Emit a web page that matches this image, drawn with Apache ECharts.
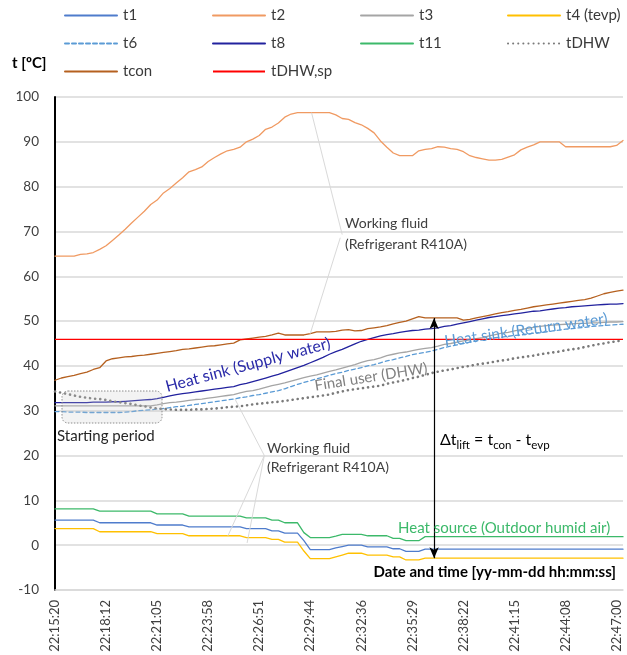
<!DOCTYPE html>
<html>
<head>
<meta charset="utf-8">
<script src="https://cdn.jsdelivr.net/npm/echarts@6/dist/echarts.min.js"></script>
<style>
html,body{margin:0;padding:0;background:#fff;}
#chart{width:627px;height:655px;}
</style>
</head>
<body>
<div id="chart"></div>
<script>
// ---- DATA ----
const tickLabels = ['22:15:20','22:18:12','22:21:05','22:23:58','22:26:51','22:29:44','22:32:36','22:35:29','22:38:22','22:41:15','22:44:08','22:47:00'];
const samplesPerTick = 8;
const nPoints = 90;

const t1 = [5.6,5.6,5.6,5.6,5.6,5.6,5.6,
 5.0,5.0,5.0,5.0,5.0,5.0,5.0,5.0,5.0,
 4.5,4.5,4.5,4.5,4.5,
 4.1,4.1,4.1,4.1,4.1,4.1,4.1,4.1,4.1,
 3.7,3.7,3.7,3.7,
 3.2,3.2,
 2.7,2.7,2.7,
 1.0,
 -1.0,-1.0,-1.0,-1.0,
 -0.6,-0.3,
 0.0,0.0,0.0,
 -0.4,-0.4,-0.4,-0.4,
 -0.8,-0.8,
 -1.4,-1.4,-1.4,
 -0.9,-0.9,-0.9,-0.9,-0.9,-0.9,-0.9,-0.9,-0.9,-0.9,-0.9,-0.9,-0.9,-0.9,-0.9,-0.9,
 -0.9,-0.9,-0.9,-0.9,-0.9,-0.9,-0.9,-0.9,-0.9,-0.9,-0.9,-0.9,-0.9,-0.9,-0.9,-0.9];

const t2 = [64.5,64.5,64.5,64.5,64.9,65.0,65.3,66.0,66.8,68.0,
 69.2,70.5,71.9,73.2,74.5,76.0,77.0,78.6,79.6,80.8,
 82.0,83.3,83.8,84.4,85.6,86.5,87.3,88.0,88.3,88.8,
 90.0,90.6,91.4,92.8,93.3,94.2,95.5,96.2,96.5,96.5,
 96.5,96.5,96.5,96.5,96.0,95.2,95.0,94.3,93.8,93.0,
 92.0,90.2,88.8,87.5,86.9,86.9,86.9,88.0,88.3,88.5,
 88.9,88.8,88.5,88.3,87.8,86.9,86.5,86.2,85.9,85.9,
 86.1,86.6,87.1,88.2,88.8,89.3,90.0,90.0,90.0,90.0,
 88.9,88.9,88.9,88.9,88.9,88.9,88.9,88.9,89.2,90.3];

const t3 = [31.1,31.1,31.1,31.1,31.1,31.1,31.1,31.1,31.1,31.1,
 31.1,31.1,31.1,31.1,31.1,31.1,31.3,31.6,31.8,31.9,
 32.1,32.3,32.5,32.6,32.8,33.0,33.2,33.4,33.6,34.0,
 34.3,34.5,34.8,35.2,35.6,35.9,36.2,36.6,37.0,37.4,
 37.7,38.0,38.4,38.8,39.1,39.5,39.9,40.3,40.8,41.2,
 41.4,41.8,42.3,42.6,42.9,43.1,43.4,43.7,43.9,44.1,
 44.4,44.8,45.0,45.3,45.6,45.8,46.1,46.3,46.7,47.0,
 47.3,47.5,47.8,48.1,48.4,48.6,48.8,49.0,49.1,49.2,
 49.3,49.4,49.5,49.5,49.6,49.6,49.7,49.8,49.8,49.9];

const t4 = [3.7,3.7,3.7,3.7,3.7,3.7,3.7,
 3.0,3.0,3.0,3.0,3.0,3.0,3.0,3.0,3.0,
 2.6,2.6,2.6,2.6,2.6,
 2.1,2.1,2.1,2.1,2.1,2.1,2.1,2.1,2.1,
 1.7,1.7,1.7,1.7,
 1.3,1.3,
 0.7,0.7,0.7,
 -1.3,
 -3.0,-3.0,-3.0,-3.0,
 -2.6,-2.2,
 -1.8,-1.8,-1.8,
 -2.2,-2.2,-2.2,-2.2,
 -2.6,-2.6,
 -3.3,-3.3,-3.3,
 -2.9,-2.9,-2.9,-2.9,-2.9,-2.9,-2.9,-2.9,-2.9,-2.9,-2.9,-2.9,-2.9,-2.9,-2.9,-2.9,
 -2.9,-2.9,-2.9,-2.9,-2.9,-2.9,-2.9,-2.9,-2.9,-2.9,-2.9,-2.9,-2.9,-2.9,-2.9,-2.9];

const t6 = [29.8,29.8,29.7,29.7,29.7,29.6,29.6,29.6,29.6,29.6,
 29.6,29.7,29.8,30.0,30.1,30.2,30.4,30.5,30.7,30.9,
 31.0,31.2,31.4,31.6,31.8,32.0,32.2,32.4,32.6,32.9,
 33.1,33.4,33.6,33.9,34.2,34.5,34.9,35.4,35.9,36.3,
 36.7,37.1,37.5,37.9,38.3,38.6,39.0,39.3,39.6,40.0,
 40.3,40.7,41.1,41.4,41.8,42.1,42.5,42.8,43.0,43.3,
 43.7,44.1,44.4,44.7,45.0,45.3,45.6,45.8,46.1,46.3,
 46.4,46.6,46.8,46.9,47.1,47.3,47.4,47.6,47.8,48.0,
 48.2,48.3,48.5,48.6,48.8,48.9,49.0,49.1,49.2,49.3];

const t8 = [31.8,31.8,31.8,31.8,31.8,31.8,31.9,31.9,31.9,32.0,
 32.0,32.1,32.2,32.3,32.4,32.5,32.7,33.0,33.3,33.6,
 33.8,34.0,34.2,34.4,34.6,34.8,35.0,35.2,35.4,35.8,
 36.1,36.5,36.9,37.3,37.7,38.1,38.6,39.1,39.6,40.1,
 40.7,41.3,41.9,42.6,43.2,43.7,44.3,44.9,45.5,45.9,
 46.3,46.7,47.0,47.2,47.5,47.7,47.9,48.0,48.2,48.3,
 48.5,48.8,49.0,49.3,49.6,49.9,50.2,50.5,50.8,51.0,
 51.2,51.4,51.6,51.8,52.0,52.2,52.3,52.5,52.7,52.9,
 53.0,53.2,53.3,53.4,53.5,53.6,53.7,53.8,53.8,53.9];

const t11 = [8.1,8.1,8.1,8.1,8.1,8.1,8.1,
 7.6,7.6,7.6,7.6,7.6,7.6,7.6,7.6,7.6,
 7.0,7.0,7.0,7.0,7.0,
 6.5,6.5,6.5,6.5,6.5,6.5,6.5,6.5,6.5,
 6.1,6.1,6.1,6.1,
 5.6,5.6,
 5.0,5.0,5.0,
 2.8,
 1.7,1.7,1.7,1.7,
 2.0,
 2.4,2.4,2.4,2.4,
 2.1,2.1,2.1,2.1,
 1.5,1.5,
 1.0,1.0,1.0,
 1.9,1.9,1.9,1.9,1.9,1.9,1.9,1.9,1.9,1.9,1.9,1.9,1.9,1.9,1.9,1.9,
 1.9,1.9,1.9,1.9,1.9,1.9,1.9,1.9,1.9,1.9,1.9,1.9,1.9,1.9,1.9,1.9];

const tDHW = [34.3,34.0,33.7,33.4,33.1,32.9,32.7,32.6,32.4,32.1,
 31.9,31.7,31.5,31.2,31.0,30.7,30.5,30.4,30.3,30.2,
 30.2,30.2,30.3,30.3,30.4,30.5,30.6,30.8,30.9,31.0,
 31.2,31.4,31.6,31.7,31.9,32.0,32.2,32.4,32.6,32.8,
 33.0,33.2,33.4,33.6,34.0,34.3,34.6,34.8,35.0,35.2,
 35.4,35.6,36.0,36.3,36.6,36.9,37.3,37.6,38.0,38.4,
 38.7,39.0,39.2,39.5,39.8,40.0,40.3,40.5,40.7,41.0,
 41.2,41.4,41.7,41.9,42.1,42.3,42.6,42.8,43.0,43.2,
 43.5,43.7,43.9,44.2,44.5,44.8,45.0,45.3,45.5,45.7];

const tcon = [36.8,37.3,37.6,37.9,38.3,38.6,39.2,39.6,41.1,41.6,
 41.8,42.0,42.1,42.3,42.4,42.6,42.8,43.0,43.2,43.4,
 43.7,43.8,44.0,44.2,44.4,44.5,44.7,44.9,45.1,45.8,
 46.0,46.2,46.4,46.6,46.9,47.3,46.9,46.9,46.9,46.9,
 47.2,47.6,47.6,47.6,47.7,48.0,48.1,47.8,47.9,48.3,
 48.5,48.7,49.0,49.4,49.7,50.0,50.5,51.0,50.7,50.7,
 50.7,50.7,50.7,50.7,50.2,50.4,50.7,51.0,51.3,51.6,
 51.9,52.1,52.4,52.6,52.9,53.2,53.4,53.6,53.8,54.0,
 54.2,54.4,54.6,54.8,55.1,55.6,56.1,56.4,56.7,56.9];

const tDHWsp = 45.9;

// ---- CHART ----
const categories = [];
tickLabels.forEach(function (lab) {
  categories.push(lab);
  for (let k = 1; k < samplesPerTick; k++) categories.push('');
});
categories.length = nPoints;

const FONT = 'Lato';
const chart = echarts.init(document.getElementById('chart'), null, {renderer: 'canvas'});

function lineSeries(name, data, color, width, type) {
  return {
    name: name, type: 'line', data: data, symbol: 'none', showSymbol: false,
    lineStyle: {color: color, width: width, type: type || 'solid', cap: 'round'},
    itemStyle: {color: color}, silent: true
  };
}

const arrowStyle = {color: '#000', width: 1.2};
const series = [
  lineSeries('t1', t1, '#4f7ccc', 1.3),
  lineSeries('t2', t2, '#f09a62', 1.3),
  lineSeries('t3', t3, '#a5a5a5', 1.3),
  lineSeries('t4 (tevp)', t4, '#ffc000', 1.3),
  lineSeries('t6', t6, '#5b9bd5', 1.3, [4, 3]),
  lineSeries('t8', t8, '#22229e', 1.3),
  lineSeries('t11', t11, '#3cb96a', 1.3),
  lineSeries('tDHW', tDHW, '#7a7a7a', 2.6, [0.1, 5]),
  lineSeries('tcon', tcon, '#b5601f', 1.3),
  {
    name: 'tDHW,sp', type: 'line', symbol: 'none', silent: true,
    data: [[0, tDHWsp], [nPoints - 1, tDHWsp]],
    lineStyle: {color: '#ff0000', width: 1.2}, itemStyle: {color: '#ff0000'}
  },
  {
    name: '_annot', type: 'line', xAxisIndex: 1, data: [], silent: true,
    markLine: {
      silent: true, animation: false, symbol: ['none', 'none'],
      label: {show: false},
      lineStyle: {color: '#d9d9d9', width: 1, type: 'solid'},
      data: [
        [{coord: [40.2, 96.5]}, {coord: [45.0, 69.3]}],
        [{coord: [40.0, 47.2]}, {coord: [44.7, 68.6]}],
        [{coord: [28.2, 32.6]}, {coord: [32.8, 20.0]}],
        [{coord: [32.8, 20.0]}, {coord: [27.1, 2.1]}],
        [{coord: [32.8, 20.0]}, {coord: [30.1, 0.5]}],
        [{coord: [59.4, 50.7], symbol: 'arrow', symbolSize: [7, 11], lineStyle: arrowStyle},
         {coord: [59.4, -2.9], symbol: 'arrow', symbolSize: [7, 11], lineStyle: arrowStyle}]
      ]
    }
  }
];

const legendNames = ['t1','t2','t3','t4 (tevp)','t6','t8','t11','tDHW','tcon','tDHW,sp'];
const legendCols = [64, 212, 360, 507];
const legendRows = [17, 45, 73];
const legends = legendNames.map(function (n, k) {
  return {
    left: legendCols[k % 4], top: legendRows[Math.floor(k / 4)] - 9,
    data: [n], itemWidth: 52, itemHeight: 14, padding: 0, itemGap: 0,
    selectedMode: false,
    itemStyle: {opacity: 0},
    textStyle: {fontFamily: FONT, fontSize: 15, color: '#3a3a3a', padding: [0, 0, 0, 1]}
  };
});

const option = {
  animation: false,
  backgroundColor: '#fff',
  legend: legends,
  grid: {left: 55, right: 4, top: 97, bottom: 65},
  xAxis: [{
    type: 'category', data: categories, boundaryGap: false,
    axisLine: {show: true, onZero: false, lineStyle: {color: '#d9d9d9', width: 1.5}},
    axisTick: {show: false},
    axisLabel: {interval: samplesPerTick - 1, rotate: 90, fontSize: 13, color: '#404040', fontFamily: FONT, margin: 10},
    splitLine: {show: false}
  }, {
    type: 'value', min: 0, max: nPoints - 1, show: false, gridIndex: 0
  }],
  yAxis: {
    type: 'value', min: -10, max: 100, interval: 10,
    axisLine: {show: true, onZero: false, lineStyle: {color: '#000', width: 2}},
    axisTick: {show: false},
    axisLabel: {fontSize: 13.5, color: '#404040', fontFamily: FONT, margin: 16},
    splitLine: {lineStyle: {color: '#d9d9d9', width: 1.5}}
  },
  series: series,
  graphic: [
    {type: 'text', x: 12, y: 63, style: {text: 't [ºC]', fontFamily: FONT, fontSize: 15, fontWeight: 'bold', fill: '#000', align: 'left', verticalAlign: 'middle'}},
    {type: 'rect', shape: {x: 62, y: 391, width: 100, height: 32, r: 6},
     style: {fill: 'rgba(200,200,200,0.22)', stroke: '#8c8c8c', lineWidth: 1, lineDash: [1.5, 1.5]}, z: 50},
    {type: 'text', x: 57, y: 436, z: 60, style: {text: 'Starting period', fontFamily: FONT, fontSize: 15, fill: '#262626', align: 'left', verticalAlign: 'middle'}},
    {type: 'text', x: 345, y: 234, z: 60, style: {text: 'Working fluid\n(Refrigerant R410A)', fontFamily: FONT, fontSize: 14, lineHeight: 21, fill: '#404040', align: 'left', verticalAlign: 'middle'}},
    {type: 'text', x: 267, y: 458, z: 60, style: {text: 'Working fluid\n(Refrigerant R410A)', fontFamily: FONT, fontSize: 14, lineHeight: 19, fill: '#404040', align: 'left', verticalAlign: 'middle'}},
    {type: 'text', x: 248, y: 365, rotation: 15 * Math.PI / 180, z: 60, style: {text: 'Heat sink (Supply water)', fontFamily: FONT, fontSize: 16, fill: '#2a2aa8', align: 'center', verticalAlign: 'middle'}},
    {type: 'text', x: 526, y: 330, rotation: 8 * Math.PI / 180, z: 60, style: {text: 'Heat sink (Return water)', fontFamily: FONT, fontSize: 15.5, fill: '#5b9bd5', align: 'center', verticalAlign: 'middle'}},
    {type: 'text', x: 371, y: 377, rotation: 9 * Math.PI / 180, z: 60, style: {text: 'Final user (DHW)', fontFamily: FONT, fontSize: 15, fill: '#808080', align: 'center', verticalAlign: 'middle'}},
    {type: 'text', x: 398, y: 528, z: 60, style: {text: 'Heat source (Outdoor humid air)', fontFamily: FONT, fontSize: 15, fill: '#3cb96a', align: 'left', verticalAlign: 'middle'}},
    {type: 'text', x: 616, y: 572, z: 60, style: {text: 'Date and time [yy-mm-dd hh:mm:ss]', fontFamily: FONT, fontSize: 15, fontWeight: 'bold', fill: '#000', align: 'right', verticalAlign: 'middle'}},
    {type: 'text', x: 440, y: 440, z: 60, style: {
      text: '{a|Δt}{b|lift}{a| = t}{b|con}{a| - t}{b|evp}',
      fontFamily: FONT, fontSize: 16, fill: '#000', align: 'left', verticalAlign: 'middle',
      rich: {
        a: {fontFamily: FONT, fontSize: 16, fill: '#000', lineHeight: 24},
        b: {fontFamily: FONT, fontSize: 11.5, fill: '#000', lineHeight: 24, padding: [10, 0, 0, 0]}
      }
    }}
  ]
};
chart.setOption(option);
</script>
</body>
</html>
